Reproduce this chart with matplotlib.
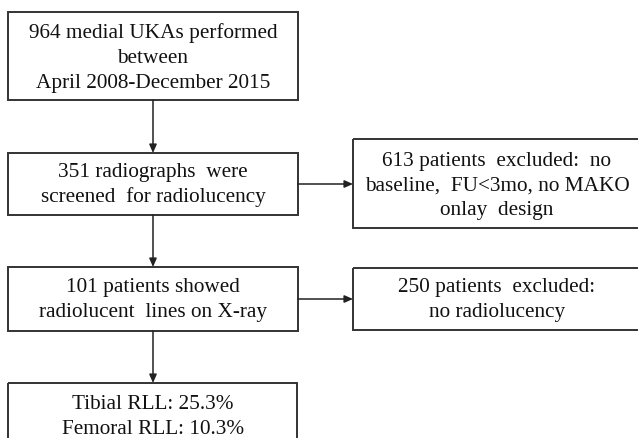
import matplotlib
matplotlib.use("Agg")
import matplotlib.pyplot as plt
from matplotlib.patches import Rectangle

box_texts = [
    "964 medial UKAs performed\nbetween\nApril 2008-December 2015",
    "351 radiographs  were\nscreened  for radiolucency",
    "613 patients  excluded:  no\nbaseline,  FU<3mo, no MAKO\nonlay  design",
    "101 patients showed\nradiolucent  lines on X-ray",
    "250 patients  excluded:\nno radiolucency",
    "Tibial RLL: 25.3%\nFemoral RLL: 10.3%",
]

# layout in pixel coordinates: (left, top, right, bottom)
boxes = [
    (8, 12, 298, 100),
    (8, 153, 298, 215),
    (353, 139, 645, 228),
    (8, 267, 298, 331),
    (353, 268, 645, 330),
    (8, 383, 297, 460),
]
text_centers = [
    (153, 58),
    (153, 185),
    (497, 186),
    (153, 300),
    (497, 300),
    (153, 417),
]

W, H = 638, 438
fig = plt.figure(figsize=(W / 100, H / 100), dpi=100)
ax = fig.add_axes([0, 0, 1, 1])
ax.set_xlim(0, W)
ax.set_ylim(H, 0)
ax.axis("off")

ec = "#333333"
for (l, t, r, b) in boxes:
    ax.add_patch(Rectangle((l, t), r - l, b - t, fill=False, ec=ec, lw=1.4))

for txt, (cx, cy) in zip(box_texts, text_centers):
    ax.text(cx, cy, txt, ha="center", va="center", fontsize=15.3,
            family="Liberation Serif", color="#111111", linespacing=1.4)

arrow_kw = dict(arrowstyle="-|>,head_length=0.5,head_width=0.22", color="#222222", lw=1.1,
                shrinkA=0, shrinkB=0)
# vertical arrows
for (x, y0, y1) in [(153, 100, 153), (153, 215, 267), (153, 331, 383)]:
    ax.annotate("", xy=(x, y1), xytext=(x, y0), arrowprops=arrow_kw)
# horizontal arrows
for (y, x0, x1) in [(184, 298, 353), (299, 298, 353)]:
    ax.annotate("", xy=(x1, y), xytext=(x0, y), arrowprops=arrow_kw)

fig.savefig("out.png", dpi=100)
